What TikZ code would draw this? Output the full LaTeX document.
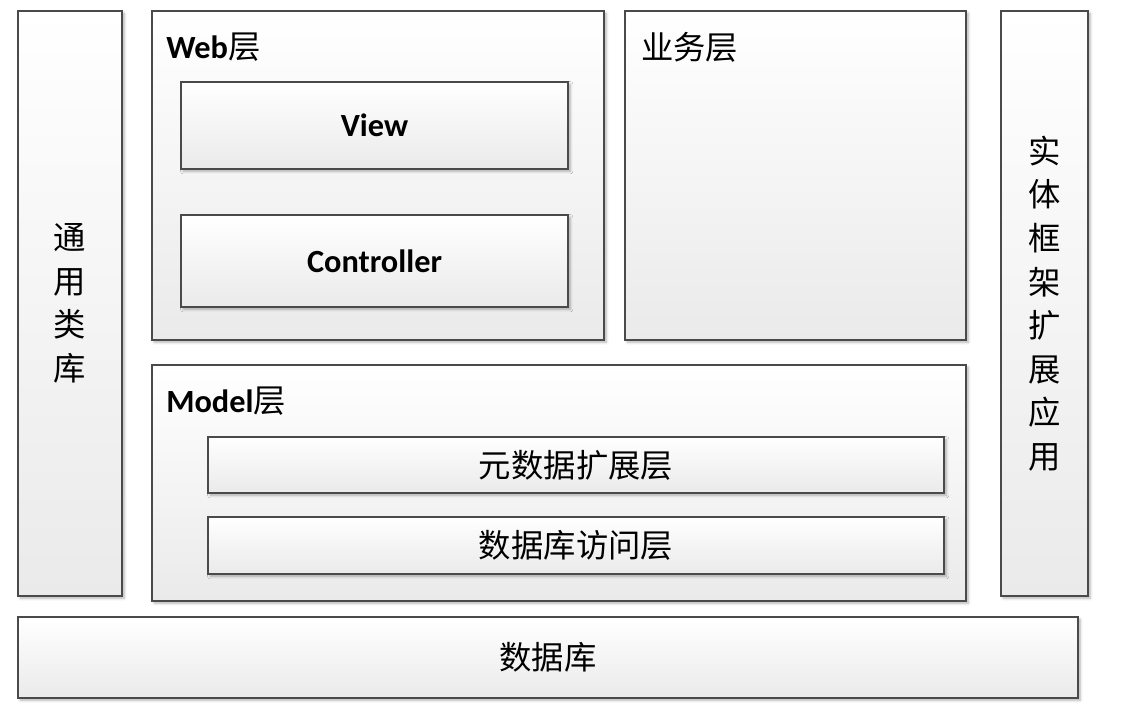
\documentclass[tikz,border=0pt]{standalone}
\usepackage{fontspec}
\setmainfont{Carlito}
\newfontfamily\cjk{Noto Sans CJK SC}
\newfontfamily\latinfont{Carlito}
\usetikzlibrary{fit}
\usetikzlibrary{shadows.blur}
\definecolor{boxline}{HTML}{4A4A4A}
\definecolor{boxfoot}{HTML}{EAEAEA}
\tikzset{layer/.style={draw=boxline, line width=0.8pt, top color=white, bottom color=boxfoot,
    inner sep=0pt,
    blur shadow={shadow xshift=1.6pt, shadow yshift=-1.6pt, shadow blur steps=4, shadow opacity=30}}}
\tikzset{caption/.style={inner sep=0pt, align=center, font=\cjk\fontsize{23}{31}\selectfont}}
\tikzset{title/.style={anchor=west, inner sep=0pt, font=\fontsize{23}{28}\selectfont}}

\begin{document}
\begin{tikzpicture}[x=0.025cm,y=-0.025cm]
  \useasboundingbox (0,0) rectangle (1121,716);
  % outer boxes
  \foreach \xa/\ya/\xb/\yb/\lab/\name in {
    18/11/122/596/common/{通\\用\\类\\库},
    152/11/604/340/web/{},
    625/11/966/340/service/{},
    1001/11/1088/596/entity/{实\\体\\框\\架\\扩\\展\\应\\用},
    152/365/966/601/model/{},
    18/617/1078/698/db/{数据库}%
  } {
    \node[layer, fit={(\xa,\ya) (\xb,\yb)}] (\lab) {};
    \node[caption] (\lab text) at (\lab.center) {\name};
  }
  % inner boxes
  \foreach \xa/\ya/\xb/\yb/\lab/\name in {
    181/82/568/169/view/{\latinfont\bfseries View},
    181/215/568/307/ctrl/{\latinfont\bfseries Controller},
    208/437/944/493/meta/{元数据扩展层},
    208/517/944/574/dao/{数据库访问层}%
  } {
    \node[layer, fit={(\xa,\ya) (\xb,\yb)}] (\lab) {};
    \node[caption] (\lab text) at (\lab.center) {\name};
  }
  \node[title] (webtitle) at (166,47) {{\bfseries Web}{\cjk 层}};
  \node[title] (servicetitle) at (641,47) {\cjk 业务层};
  \node[title] (modeltitle) at (166,401) {{\bfseries Model}{\cjk 层}};
\end{tikzpicture}
\end{document}
